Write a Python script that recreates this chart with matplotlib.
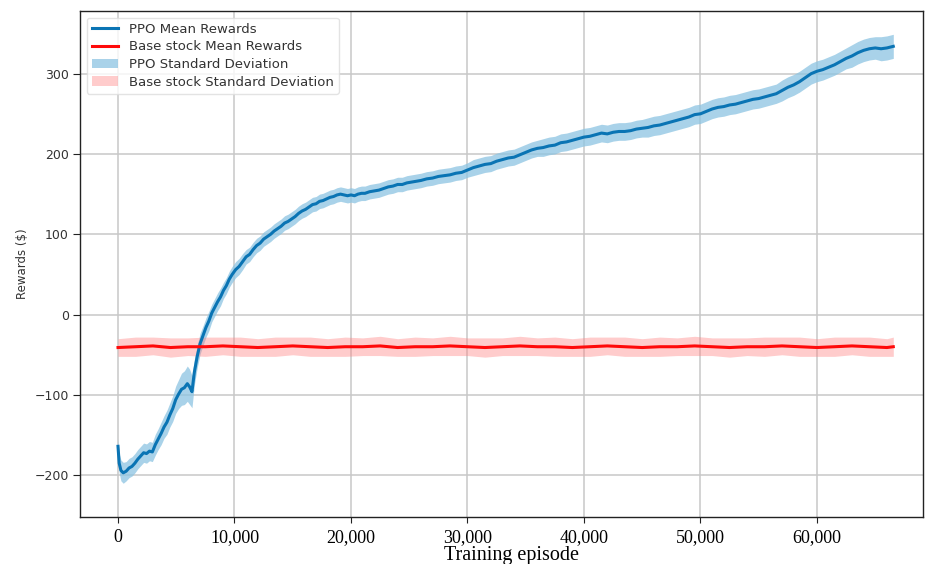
import matplotlib
matplotlib.use("Agg")
import matplotlib.pyplot as plt
from matplotlib.ticker import FuncFormatter
import numpy as np

# PPO mean rewards
ppo_episodes = [
    0, 100, 250, 450, 700, 950, 1200, 1450, 1700, 1950,
    2200, 2450, 2700, 2950, 3200, 3450, 3700, 3950, 4200, 4450,
    4700, 4950, 5200, 5450, 5700, 5950, 6150, 6350, 6550, 6800,
    7050, 7300, 7550, 7800, 8050, 8300, 8550, 8800, 9050, 9300,
    9550, 9800, 10100, 10400, 10700, 11000, 11300, 11600, 11900, 12200,
    12500, 12800, 13100, 13400, 13700, 14000, 14300, 14600, 14900, 15200,
    15500, 15800, 16100, 16400, 16700, 17000, 17300, 17600, 17900, 18200,
    18500, 18800, 19100, 19400, 19700, 20000, 20300, 20600, 20900, 21200,
    21600, 22000, 22400, 22800, 23200, 23600, 24000, 24400, 24800, 25200,
    25600, 26000, 26500, 27000, 27500, 28000, 28500, 29000, 29500, 30000,
    30500, 31000, 31500, 32000, 32500, 33000, 33500, 34000, 34500, 35000,
    35500, 36000, 36500, 37000, 37500, 38000, 38500, 39000, 39500, 40000,
    40500, 41000, 41500, 42000, 42500, 43000, 43500, 44000, 44500, 45000,
    45500, 46000, 46500, 47000, 47500, 48000, 48500, 49000, 49500, 50000,
    50500, 51000, 51500, 52000, 52500, 53000, 53500, 54000, 54500, 55000,
    55500, 56000, 56500, 57000, 57500, 58000, 58500, 59000, 59500, 60000,
    60500, 61000, 61500, 62000, 62500, 63000, 63500, 64000, 64500, 65000,
    65500, 66000, 66550]
ppo_mean = [
    -164, -185, -194, -197, -195, -191, -189, -185, -180, -176,
    -172, -173, -170, -171, -162, -155, -148, -140, -134, -125,
    -117, -106, -99, -93, -91, -86, -90, -96, -72, -52,
    -36, -26, -16, -8, 2, 9, 16, 22, 30, 36,
    44, 50, 56, 60, 66, 72, 75, 81, 86, 89,
    94, 97, 100, 104, 107, 110, 114, 116, 119, 122,
    126, 129, 131, 134, 137, 138, 141, 142, 144, 146,
    147, 149, 150, 149, 148, 149, 148, 150, 151, 151,
    153, 154, 155, 157, 159, 160, 162, 162, 164, 165,
    166, 167, 169, 170, 172, 173, 174, 176, 177, 180,
    183, 185, 187, 188, 191, 193, 195, 196, 199, 202,
    205, 207, 208, 210, 211, 214, 215, 217, 219, 221,
    222, 224, 226, 225, 227, 228, 228, 229, 231, 232,
    233, 235, 236, 238, 240, 242, 244, 246, 249, 250,
    253, 256, 258, 259, 261, 262, 264, 266, 268, 269,
    271, 273, 275, 279, 283, 286, 290, 295, 300, 303,
    305, 308, 311, 315, 319, 322, 326, 329, 331, 332,
    331, 332, 334]
ppo_std = [
    10, 12, 13, 13, 12, 12, 12, 12, 12, 12,
    12, 12, 12, 12, 13, 13, 14, 14, 15, 15,
    16, 17, 18, 20, 21, 22, 22, 20, 16, 14,
    13, 12, 12, 12, 11, 11, 11, 11, 10, 10,
    10, 10, 10, 10, 10, 9, 9, 9, 9, 9,
    9, 9, 9, 9, 9, 9, 9, 9, 9, 9,
    9, 9, 9, 9, 9, 9, 9, 9, 9, 9,
    9, 9, 9, 9, 9, 9, 9, 9, 9, 9,
    9, 9, 9, 9, 9, 9, 9, 9, 9, 9,
    9, 9, 9, 9, 9, 9, 9, 9, 9, 9,
    10, 10, 10, 10, 10, 10, 10, 10, 10, 10,
    10, 10, 11, 11, 11, 11, 11, 11, 11, 11,
    11, 11, 11, 11, 11, 11, 11, 11, 11, 11,
    12, 12, 12, 12, 12, 12, 12, 12, 12, 12,
    12, 12, 12, 12, 12, 12, 12, 12, 12, 12,
    12, 12, 12, 13, 13, 13, 13, 13, 13, 13,
    13, 13, 13, 13, 13, 14, 14, 14, 14, 14,
    15, 15, 15]

# Base stock mean rewards
base_episodes = [
    0, 1500, 3000, 4500, 6000, 7500, 9000, 10500, 12000, 13500,
    15000, 16500, 18000, 19500, 21000, 22500, 24000, 25500, 27000, 28500,
    30000, 31500, 33000, 34500, 36000, 37500, 39000, 40500, 42000, 43500,
    45000, 46500, 48000, 49500, 51000, 52500, 54000, 55500, 57000, 58500,
    60000, 61500, 63000, 64500, 66000, 66550]
base_mean = [
    -41, -40, -39, -41, -40, -40, -39, -40, -41, -40,
    -39, -40, -41, -40, -40, -39, -41, -40, -40, -39,
    -40, -41, -40, -39, -40, -40, -41, -40, -39, -40,
    -41, -40, -40, -39, -40, -41, -40, -40, -39, -40,
    -41, -40, -39, -40, -41, -40]
base_std = [
    11, 12, 11, 12, 11, 12, 11, 12, 11, 12,
    11, 12, 11, 12, 11, 12, 11, 12, 11, 12,
    11, 12, 11, 12, 11, 12, 11, 12, 11, 12,
    11, 12, 11, 12, 11, 12, 11, 12, 11, 12,
    11, 12, 11, 12, 11, 12]

xticks = [0, 10000, 20000, 30000, 40000, 50000, 60000]
yticks = [-200, -100, 0, 100, 200, 300]

fig = plt.figure(figsize=(9.25, 5.64), dpi=100)
ax = fig.add_axes([80 / 925, 47 / 564, 843 / 925, 506 / 564])

pe = np.array(ppo_episodes); pm = np.array(ppo_mean); ps = np.array(ppo_std)
be = np.array(base_episodes); bm = np.array(base_mean); bs = np.array(base_std)

ax.plot(pe, pm, color="#0a74b4", lw=2.2, label="PPO Mean Rewards", zorder=4)
ax.plot(be, bm, color="#ff0a0a", lw=2.2, label="Base stock Mean Rewards", zorder=5)
ax.fill_between(pe, pm - ps, pm + ps, color="#8cc4e2", alpha=0.75,
                lw=0, label="PPO Standard Deviation", zorder=2)
ax.fill_between(be, bm - bs, bm + bs, color="#ff8080", alpha=0.4,
                lw=0, label="Base stock Standard Deviation", zorder=3)

ax.set_xlim(-3262, 69100)
ax.set_ylim(-252, 378)
ax.set_xticks(xticks)
ax.set_yticks(yticks)
ax.xaxis.set_major_formatter(FuncFormatter(lambda v, p: f"{int(v):,}"))
ax.yaxis.set_major_formatter(FuncFormatter(lambda v, p: f"{int(v)}".replace("-", "\u2212")))
ax.grid(True, color="#c8c8c8", lw=1.1)
ax.set_axisbelow(True)

for lbl in ax.get_xticklabels():
    lbl.set_fontfamily("Liberation Serif")
    lbl.set_fontsize(13)
ax.tick_params(axis="x", colors="#222222", labelcolor="black", length=4, pad=5)
ax.tick_params(axis="y", colors="#222222", labelcolor="#333333", labelsize=9,
               length=5, pad=3)
for s in ax.spines.values():
    s.set_color("#222222")
    s.set_linewidth(1.0)

ax.set_ylabel("Rewards ($)", fontsize=8.5, color="#333333", labelpad=4)
ax.set_xlabel("Training episode", fontsize=14.5, family="Liberation Serif")
ax.xaxis.set_label_coords(0.512, -0.057, transform=ax.transAxes)
ax.xaxis.label.set_va("top")

leg = ax.legend(loc="upper left", fontsize=9.5, frameon=True, handlelength=2.0,
                borderpad=0.4, labelspacing=0.35, framealpha=0.8, edgecolor="#dddddd")
for t in leg.get_texts():
    t.set_color("#333333")

fig.savefig("out.png", dpi=100)
